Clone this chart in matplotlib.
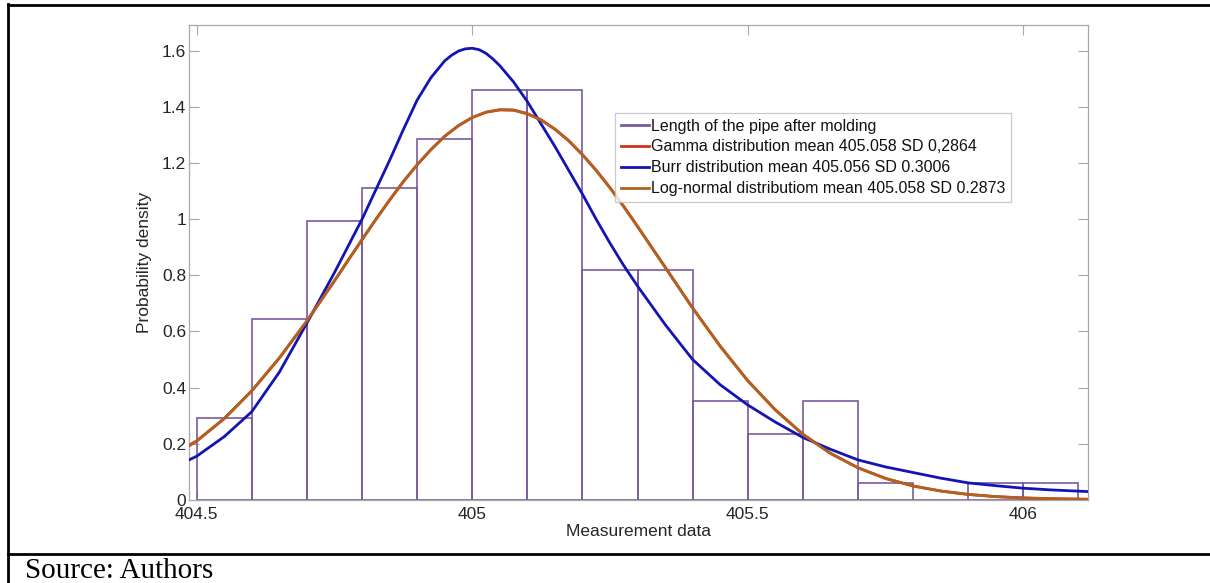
import matplotlib
matplotlib.use("Agg")
import matplotlib.pyplot as plt
from matplotlib.lines import Line2D

# ---------------- data ----------------
bin_left = [404.5, 404.6, 404.7, 404.8, 404.9, 405.0, 405.1, 405.2,
            405.3, 405.4, 405.5, 405.6, 405.7, 405.8, 405.9, 406.0]
bin_width = 0.1
hist_density = [0.292, 0.643, 0.994, 1.111, 1.287, 1.462, 1.462, 0.819,
                0.819, 0.351, 0.234, 0.351, 0.058, 0.0, 0.058, 0.058]

curve_x = [404.486, 404.50, 404.55, 404.60, 404.65, 404.70, 404.75, 404.775,
           404.80, 404.825, 404.85, 404.875, 404.90, 404.925, 404.95, 404.975,
           405.00, 405.025, 405.05, 405.075, 405.10, 405.125, 405.15, 405.175,
           405.20, 405.225, 405.25, 405.275, 405.30, 405.35, 405.40, 405.45,
           405.50, 405.55, 405.60, 405.65, 405.70, 405.75, 405.80, 405.85,
           405.90, 405.95, 406.00, 406.05, 406.117]
gamma_y = [0.192, 0.209, 0.289, 0.388, 0.505, 0.637, 0.780, 0.854,
           0.927, 0.999, 1.068, 1.134, 1.194, 1.248, 1.296, 1.334,
           1.363, 1.382, 1.391, 1.390, 1.377, 1.355, 1.322, 1.281,
           1.231, 1.175, 1.113, 1.046, 0.975, 0.830, 0.684, 0.548,
           0.425, 0.321, 0.234, 0.166, 0.114, 0.076, 0.049, 0.031,
           0.019, 0.011, 0.0063, 0.0035, 0.0015]
lognormal_y = [0.195, 0.210, 0.290, 0.389, 0.506, 0.638, 0.781, 0.855,
               0.928, 1.000, 1.069, 1.135, 1.195, 1.249, 1.296, 1.334,
               1.363, 1.382, 1.390, 1.389, 1.376, 1.354, 1.321, 1.280,
               1.230, 1.174, 1.112, 1.045, 0.974, 0.829, 0.683, 0.547,
               0.424, 0.320, 0.233, 0.165, 0.114, 0.0757, 0.049, 0.031,
               0.0187, 0.011, 0.0063, 0.0035, 0.0015]

burr_x = [404.486, 404.50, 404.55, 404.60, 404.65, 404.70, 404.725, 404.75,
          404.775, 404.80, 404.825, 404.85, 404.875, 404.90, 404.925, 404.95,
          404.9625, 404.975, 404.9875, 405.00, 405.0125, 405.025, 405.0375,
          405.05, 405.075, 405.10, 405.125, 405.15, 405.175, 405.20, 405.225,
          405.25, 405.275, 405.30, 405.35, 405.40, 405.45, 405.50, 405.55,
          405.60, 405.65, 405.70, 405.75, 405.80, 405.85, 405.90, 405.95,
          406.00, 406.05, 406.117]
burr_y = [0.142, 0.155, 0.225, 0.314, 0.455, 0.630, 0.720, 0.810,
          0.905, 1.000, 1.105, 1.210, 1.320, 1.425, 1.505, 1.565,
          1.585, 1.600, 1.608, 1.610, 1.605, 1.592, 1.572,
          1.548, 1.490, 1.420, 1.340, 1.260, 1.175, 1.090, 1.000,
          0.915, 0.835, 0.762, 0.625, 0.500, 0.410, 0.338, 0.277,
          0.222, 0.180, 0.142, 0.117, 0.097, 0.077, 0.060, 0.050,
          0.041, 0.035, 0.029]

xticks = [404.5, 405.0, 405.5, 406.0]
xtick_labels = ["404.5", "405", "405.5", "406"]
yticks = [0, 0.2, 0.4, 0.6, 0.8, 1.0, 1.2, 1.4, 1.6]
ytick_labels = ["0", "0.2", "0.4", "0.6", "0.8", "1", "1.2", "1.4", "1.6"]

labels = ["Length of the pipe after molding",
          "Gamma distribution mean 405.058 SD 0,2864",
          "Burr distribution mean 405.056 SD 0.3006",
          "Log-normal distributiom mean 405.058 SD 0.2873"]

# ---------------- styles ----------------
plt.rcParams['font.family'] = ['Liberation Sans', 'DejaVu Sans']
c_hist = '#7A5A9E'
c_gamma = '#D0301C'
c_burr = '#1414B4'
c_logn = '#B0621E'
c_axis = '#A8A8A8'
c_text = '#262626'

W, H = 1210, 583
fig = plt.figure(figsize=(W / 100, H / 100), dpi=100)

ax_l, ax_r, ax_t, ax_b = 189, 1087.7, 25, 499.7
ax = fig.add_axes([ax_l / W, 1 - ax_b / H, (ax_r - ax_l) / W, (ax_b - ax_t) / H])

ax.bar(bin_left, hist_density, width=bin_width, align='edge', fill=False,
       edgecolor=c_hist, linewidth=1.2, zorder=2)
ax.plot(curve_x, gamma_y, color=c_gamma, lw=2.0, zorder=3)
ax.plot(burr_x, burr_y, color=c_burr, lw=2.0, zorder=4)
ax.plot(curve_x, lognormal_y, color=c_logn, lw=2.0, zorder=5)

ax.set_xlim(404.486, 406.117)
ax.set_ylim(0, 1.693)
ax.set_xticks(xticks)
ax.set_xticklabels(xtick_labels)
ax.set_yticks(yticks)
ax.set_yticklabels(ytick_labels)
ax.tick_params(direction='in', top=True, right=True, length=7, width=0.8,
               color=c_axis, labelcolor=c_text, labelsize=12.5)
ax.tick_params(axis='y', pad=2)
ax.tick_params(axis='x', pad=5)
for s in ax.spines.values():
    s.set_color(c_axis)
    s.set_linewidth(0.9)

ax.set_xlabel("Measurement data", fontsize=12.5, color=c_text, labelpad=2)
ax.set_ylabel("Probability density", fontsize=12.5, color=c_text, labelpad=7)

handles = [Line2D([], [], color=c, lw=2.0) for c in (c_hist, c_gamma, c_burr, c_logn)]
leg = ax.legend(handles, labels, loc='upper left',
                bbox_to_anchor=((615 - ax_l) / (ax_r - ax_l), (ax_b - 113) / (ax_b - ax_t)),
                borderaxespad=0, fontsize=11.5, frameon=True, fancybox=False,
                handlelength=1.75, handletextpad=0.15, borderpad=0.35,
                labelspacing=0.37)
leg.get_frame().set_edgecolor('#BDBDBD')
leg.get_frame().set_linewidth(0.9)
for t in leg.get_texts():
    t.set_color('#111111')

# ---------------- outer table frame ----------------
lw = 2.0
fig.add_artist(Line2D([8 / W, 8 / W], [0, 1 - 4 / H], transform=fig.transFigure,
                      color='black', lw=lw))
fig.add_artist(Line2D([8 / W, 1], [1 - 5 / H, 1 - 5 / H], transform=fig.transFigure,
                      color='black', lw=lw))
fig.add_artist(Line2D([8 / W, 1], [1 - 554 / H, 1 - 554 / H], transform=fig.transFigure,
                      color='black', lw=lw))
fig.text(25 / W, 1 - 578 / H, "Source: Authors", fontsize=21,
         family=['Liberation Serif', 'DejaVu Serif'], color='black',
         ha='left', va='baseline')

fig.savefig("out.png", dpi=100)
